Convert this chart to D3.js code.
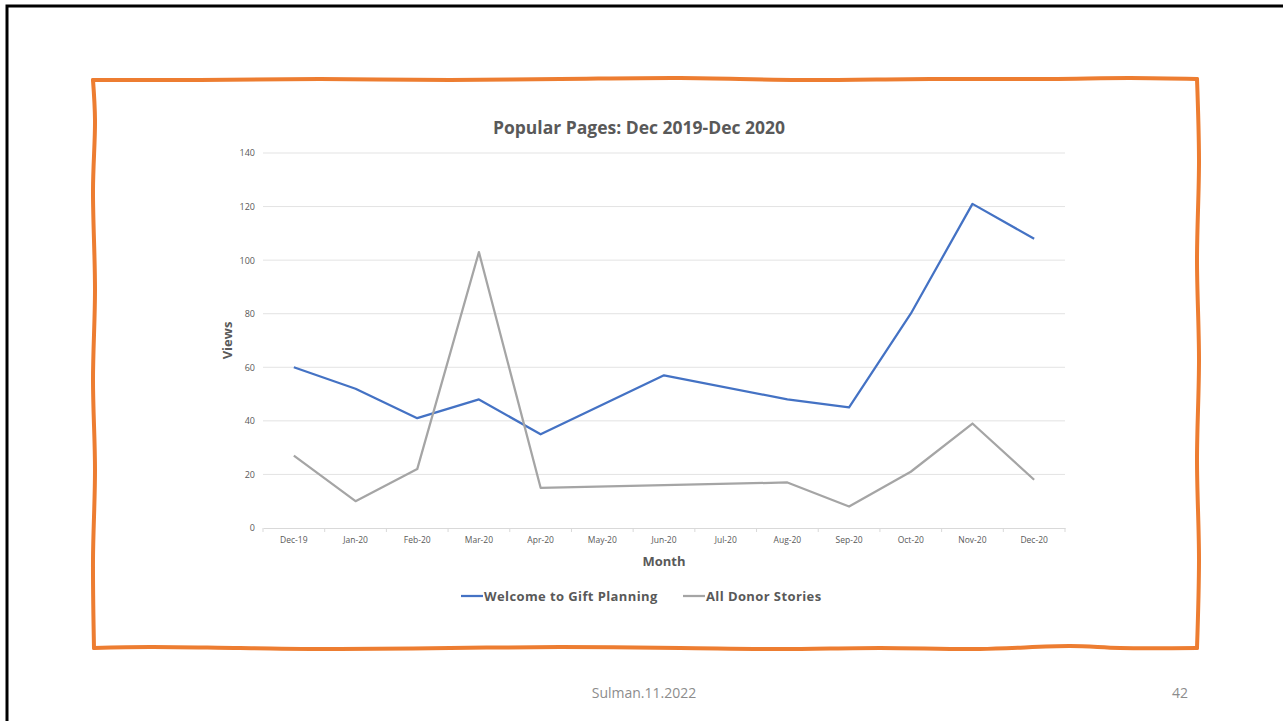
<!DOCTYPE html>
<html>
<head>
<meta charset="utf-8">
<script src="https://cdn.jsdelivr.net/npm/d3@7"></script>
<style>
  body { margin: 0; background: #fff; }
  svg { display: block; }
  text { font-family: "Open Sans", sans-serif; }
</style>
</head>
<body>
<div id="container"></div>
<script>
/* DATA */
const months = ["Dec-19", "Jan-20", "Feb-20", "Mar-20", "Apr-20", "May-20", "Jun-20",
  "Jul-20", "Aug-20", "Sep-20", "Oct-20", "Nov-20", "Dec-20"]
// May and Jul have no value, the line is joined across the gap
const welcome = [60, 52, 41, 48, 35, null, 57, null, 48, 45, 80, 121, 108]
const donorStories = [27, 10, 22, 103, 15, null, 16, null, 17, 8, 21, 39, 18]
const yTicks = [0, 20, 40, 60, 80, 100, 120, 140]
const seriesNames = ["Welcome to Gift Planning", "All Donor Stories"]
const seriesColors = ["#4472C4", "#A5A5A5"]

/* CONSTANTS */
const width = 1283, height = 721
const plot = { left: 263, right: 1065, top: 153, bottom: 528 }

const svg = d3.select("#container")
  .append("svg")
  .attr("width", width)
  .attr("height", height)

// slide edge
svg.append("path")
  .attr("d", `M7,${height} L7,6 L${width},6`)
  .attr("fill", "none")
  .attr("stroke", "#000")
  .attr("stroke-width", 3)

// wavy orange frame
const frameLine = d3.line().curve(d3.curveCatmullRom)
const frameTop = [[93, 80], [200, 80], [320, 79], [450, 80], [560, 79], [680, 78], [800, 80], [930, 79], [1050, 79], [1130, 78], [1197, 79]]
const frameRight = [[1197, 79], [1199, 160], [1197, 260], [1199, 360], [1197, 460], [1199, 560], [1197, 648]]
const frameBottom = [[1197, 648], [1120, 648], [1070, 646], [980, 649], [880, 648], [780, 649], [680, 648], [560, 647], [450, 648], [340, 649], [240, 648], [150, 647], [94, 648]]
const frameLeft = [[94, 648], [93, 560], [95, 470], [93, 380], [95, 290], [93, 190], [95, 120], [93, 80]]
;[frameTop, frameRight, frameBottom, frameLeft].forEach(pts => {
  svg.append("path")
    .attr("d", frameLine(pts))
    .attr("fill", "none")
    .attr("stroke", "#ED7D31")
    .attr("stroke-width", 4)
    .attr("stroke-linecap", "round")
})

/* SCALES */
const xBand = d3.scaleBand()
  .domain(months)
  .range([plot.left, plot.right])
const xScale = d => xBand(d) + xBand.bandwidth() / 2

const yScale = d3.scaleLinear()
  .domain([0, 140])
  .range([plot.bottom, plot.top])

// gridlines
svg.append("g")
  .selectAll("line")
  .data(yTicks.slice(1))
  .join("line")
  .attr("x1", plot.left)
  .attr("x2", plot.right)
  .attr("y1", d => yScale(d))
  .attr("y2", d => yScale(d))
  .attr("stroke", "#E3E3E3")
  .attr("stroke-width", 1)

// y axis labels
const yAxis = d3.axisLeft(yScale).tickValues(yTicks).tickSize(0).tickPadding(8)
const yG = svg.append("g")
  .attr("transform", `translate(${plot.left},0)`)
  .call(yAxis)
yG.select(".domain").remove()
yG.selectAll("text")
  .attr("fill", "#595959")
  .style("font-size", "9px")

// x axis
const xAxis = d3.axisBottom(xBand).tickSize(0).tickPadding(9)
const xG = svg.append("g")
  .attr("transform", `translate(0,${plot.bottom})`)
  .call(xAxis)
xG.select(".domain").attr("stroke", "#D9D9D9")
xG.selectAll("text")
  .attr("fill", "#595959")
  .style("font-size", "8.5px")
// tick marks between categories
xG.append("g")
  .selectAll("line")
  .data(months.concat(["end"]))
  .join("line")
  .attr("x1", (d, i) => plot.left + i * xBand.step())
  .attr("x2", (d, i) => plot.left + i * xBand.step())
  .attr("y1", 0)
  .attr("y2", 4)
  .attr("stroke", "#D9D9D9")

/* LINES */
const lineGen = d3.line()
  .x(d => xScale(d.month))
  .y(d => yScale(d.value))

;[welcome, donorStories].forEach((series, k) => {
  const pts = months.map((m, i) => ({ month: m, value: series[i] }))
    .filter(d => d.value != null)
  svg.append("path")
    .attr("d", lineGen(pts))
    .attr("fill", "none")
    .attr("stroke", seriesColors[k])
    .attr("stroke-width", 2.25)
    .attr("stroke-linejoin", "round")
})

/* TITLES */
svg.append("text")
  .attr("x", 639)
  .attr("y", 134)
  .attr("text-anchor", "middle")
  .attr("fill", "#595959")
  .style("font-size", "17.5px")
  .style("font-weight", "bold")
  .text("Popular Pages: Dec 2019-Dec 2020")

svg.append("text")
  .attr("transform", `translate(231.5,${(plot.top + plot.bottom) / 2}) rotate(-90)`)
  .attr("text-anchor", "middle")
  .attr("fill", "#595959")
  .style("font-size", "13px")
  .style("font-weight", "bold")
  .text("Views")

svg.append("text")
  .attr("x", 664)
  .attr("y", 566)
  .attr("text-anchor", "middle")
  .attr("fill", "#595959")
  .style("font-size", "13px")
  .style("font-weight", "bold")
  .text("Month")

/* LEGEND */
const legendX = [461, 683]
seriesNames.forEach((name, k) => {
  const g = svg.append("g").attr("transform", `translate(${legendX[k]},596)`)
  g.append("line")
    .attr("x1", 0).attr("x2", 22)
    .attr("stroke", seriesColors[k])
    .attr("stroke-width", 2.25)
  g.append("text")
    .attr("x", 23)
    .attr("y", 4.5)
    .attr("fill", "#595959")
    .style("font-size", "13px")
    .style("font-weight", "bold")
    .style("letter-spacing", "0.4px")
    .text(name)
})

/* FOOTER */
svg.append("text")
  .attr("x", 644)
  .attr("y", 698)
  .attr("text-anchor", "middle")
  .attr("fill", "#8C8C8C")
  .style("font-size", "14px")
  .text("Sulman.11.2022")

svg.append("text")
  .attr("x", 1180)
  .attr("y", 698)
  .attr("text-anchor", "middle")
  .attr("fill", "#8C8C8C")
  .style("font-size", "14px")
  .text("42")
</script>
</body>
</html>
